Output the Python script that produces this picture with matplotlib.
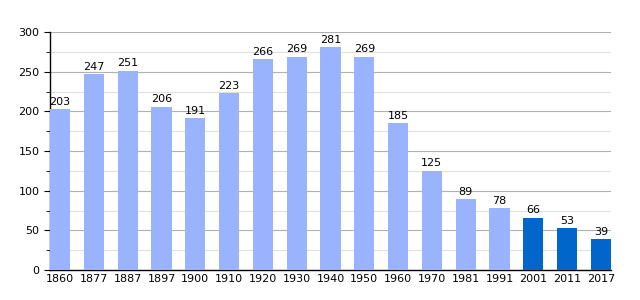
import matplotlib
matplotlib.use('Agg')
import matplotlib.pyplot as plt
import numpy as np

years = ['1860', '1877', '1887', '1897', '1900', '1910', '1920', '1930', '1940',
         '1950', '1960', '1970', '1981', '1991', '2001', '2011', '2017']
population = [203, 247, 251, 206, 191, 223, 266, 269, 281, 269, 185, 125, 89, 78, 66, 53, 39]
n_light = 14  # older censuses drawn in light blue

light = '#99b3ff'
dark = '#0066cc'

fig = plt.figure(figsize=(6.4, 3.0), dpi=100)
ax = fig.add_axes([50/640, 30/300, 561/640, 238/300])

x = np.arange(len(years))
colors = [light if i < n_light else dark for i in range(len(years))]
ax.bar(x, population, width=0.6, color=colors, zorder=3)

for xi, v in zip(x, population):
    ax.text(xi, v + 3, str(v), ha='center', va='bottom', fontsize=8, zorder=4)

ax.set_xlim(-0.3, len(years) - 0.7)
ax.set_ylim(0, 300)
ax.set_xticks(x)
ax.set_xticklabels(years, fontsize=8)
ax.set_yticks(np.arange(0, 301, 50))
ax.set_yticks(np.arange(25, 300, 50), minor=True)
ax.tick_params(axis='y', labelsize=8, length=4, direction='out')
ax.tick_params(axis='y', which='minor', length=3)
ax.tick_params(axis='x', length=0, pad=3)

ax.grid(axis='y', which='major', color='#b0b0b0', lw=0.8, zorder=0)
ax.grid(axis='y', which='minor', color='#e0e0e0', lw=0.8, zorder=0)

for s in ['top', 'right']:
    ax.spines[s].set_visible(False)
ax.spines['left'].set_linewidth(1)
ax.spines['bottom'].set_linewidth(1)

fig.savefig('out.png', dpi=100)
